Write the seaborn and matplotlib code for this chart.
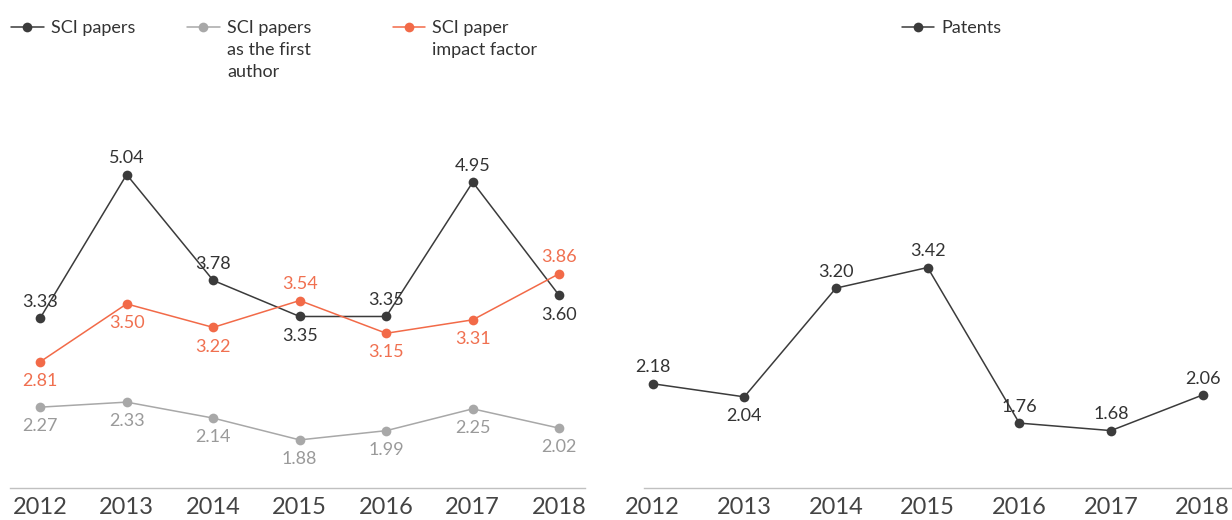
import pandas as pd
import matplotlib.pyplot as plt
import seaborn as sns

# dati
years = ['2012', '2013', '2014', '2015', '2016', '2017', '2018']
sci_papers = [3.33, 5.04, 3.78, 3.35, 3.35, 4.95, 3.60]
sci_first_author = [2.27, 2.33, 2.14, 1.88, 1.99, 2.25, 2.02]
sci_impact = [2.81, 3.50, 3.22, 3.54, 3.15, 3.31, 3.86]
patents = [2.18, 2.04, 3.20, 3.42, 1.76, 1.68, 2.06]
left_labels = ['SCI papers', 'SCI papers\nas the first\nauthor', 'SCI paper\nimpact factor']

# posizione delle etichette: 1 sopra, -1 sotto
pos_papers = [1, 1, 1, -1, 1, 1, -1]
pos_first = [-1, -1, -1, -1, -1, -1, -1]
pos_impact = [-1, -1, -1, 1, -1, -1, 1]
pos_patents = [1, -1, 1, 1, 1, 1, 1]

sns.set_style('white')
plt.rcParams['font.family'] = ['Lato', 'DejaVu Sans']

c_dark = '#3b3b3b'
c_gray = '#a8a8a8'
c_orange = '#f26a48'

fig = plt.figure(figsize=(12.32, 5.2), dpi=100)
ax1 = fig.add_axes([0.008, 0.062, 0.467, 0.62])
ax2 = fig.add_axes([0.523, 0.062, 0.477, 0.62])

left = pd.DataFrame({'Year': years, left_labels[0]: sci_papers,
                     left_labels[1]: sci_first_author,
                     left_labels[2]: sci_impact})
df_left = left.melt(id_vars='Year', var_name='Serie', value_name='Valore')
df_left['x'] = df_left['Year'].map({y: i for i, y in enumerate(years)})

sns.lineplot(data=df_left, x='x', y='Valore', hue='Serie', ax=ax1,
             palette=[c_dark, c_gray, c_orange], marker='o', markersize=7,
             markeredgewidth=0, linewidth=1.1)

df_right = pd.DataFrame({'x': range(len(years)), 'Patents': patents})
sns.lineplot(data=df_right, x='x', y='Patents', ax=ax2, color=c_dark,
             marker='o', markersize=7, markeredgewidth=0, linewidth=1.1,
             label='Patents')


def etichette(ax, values, pos, color):
    for i, (v, p) in enumerate(zip(values, pos)):
        ax.annotate(f'{v:.2f}', (i, v), xytext=(0, 6 if p > 0 else -8),
                    textcoords='offset points', ha='center',
                    va='bottom' if p > 0 else 'top', fontsize=13,
                    color=color)


etichette(ax1, sci_papers, pos_papers, '#333333')
etichette(ax1, sci_first_author, pos_first, '#9a9a9a')
etichette(ax1, sci_impact, pos_impact, '#f07050')
etichette(ax2, patents, pos_patents, '#333333')

ax1.set_ylim(1.31, 5.15)
ax2.set_ylim(1.07, 4.51)
ax1.set_xlim(-0.35, 6.3)
ax2.set_xlim(-0.09, 6.32)

for ax in (ax1, ax2):
    ax.set_xticks(range(len(years)))
    ax.set_xticklabels(years, fontsize=17, color='#444444')
    ax.set_yticks([])
    ax.set_xlabel('')
    ax.set_ylabel('')
    for s in ['top', 'right', 'left']:
        ax.spines[s].set_visible(False)
    ax.spines['bottom'].set_color('#c0c0c0')
    ax.spines['bottom'].set_linewidth(1)
    ax.tick_params(axis='x', length=0, pad=7)


def sistema_legenda(leg):
    # maniglia allineata alla prima riga del testo
    for col in leg._legend_handle_box.get_children():
        for riga in col.get_children():
            riga.align = 'top'
    for t in leg.get_texts():
        t.set_linespacing(1.45)


# legende separate per posizionare le voci come nel riferimento
handles, labels = ax1.get_legend_handles_labels()
ax1.get_legend().remove()
legend_x = [-0.026, 0.28, 0.637]
for h, l, x in zip(handles, labels, legend_x):
    leg = ax1.legend([h], [l], loc='upper left', bbox_to_anchor=(x, 1.50),
                     frameon=False, fontsize=13, handlelength=1.8,
                     handletextpad=0.4, labelcolor='#333333')
    sistema_legenda(leg)
    ax1.add_artist(leg)
ax1.legend_ = None

h2, l2 = ax2.get_legend_handles_labels()
leg2 = ax2.legend(h2, l2, loc='upper left', bbox_to_anchor=(0.41, 1.50),
                  frameon=False, fontsize=13, handlelength=1.8,
                  handletextpad=0.4, labelcolor='#333333')
sistema_legenda(leg2)

fig.savefig('out.png', dpi=100)
